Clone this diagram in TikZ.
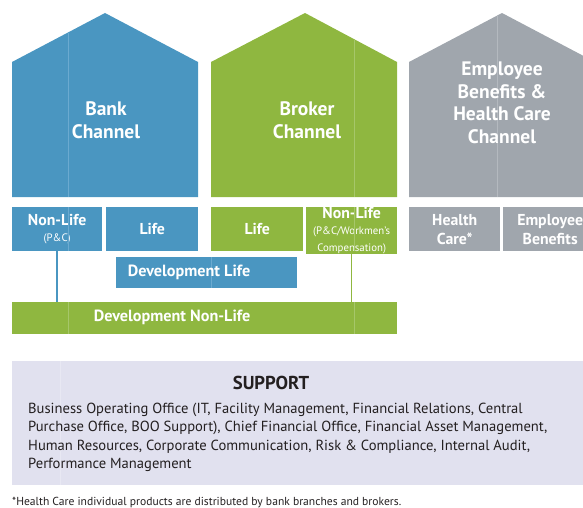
\documentclass[tikz,border=0pt]{standalone}
\usepackage{fontspec}
\setmainfont{PT Sans}
\definecolor{bankblue}{HTML}{4A96C1}
\definecolor{seamblue}{HTML}{6BAAD0}
\definecolor{brokergreen}{HTML}{8FB740}
\definecolor{seamgreen}{HTML}{A6C76A}
\definecolor{ebgrey}{HTML}{A0A6AD}
\definecolor{seamgrey}{HTML}{B4B9BF}
\definecolor{supportbg}{HTML}{E1E1EF}
\definecolor{seamsup}{HTML}{E8E8F3}
\definecolor{txtdark}{HTML}{231F20}
\newcommand{\subtxt}{\fontsize{10.8}{11}\selectfont\mdseries}
\begin{document}
\begin{tikzpicture}[x=1pt,y=-1pt,
  box/.style={anchor=north west, inner sep=0pt, align=center, text=white,
    font=\fontsize{15.8}{19}\selectfont\bfseries},
  title/.style={text=white, align=center, font=\fontsize{19.5}{22.5}\selectfont\bfseries},
  devtext/.style={text=white, font=\fontsize{16.2}{18}\selectfont\bfseries},
  seam/.style={line width=0.6pt}]
\useasboundingbox (0,0) rectangle (583,508);
\clip (0,0) rectangle (583,508);

% houses
\fill[bankblue] (12,197) -- (12,62) -- (105,13) -- (198,62) -- (198,197) -- cycle;
\fill[brokergreen] (211,197) -- (211,62) -- (305,13) -- (397,62) -- (397,197) -- cycle;
\fill[ebgrey] (409,197) -- (409,62) -- (502,13) -- (595,62) -- (595,197) -- cycle;
\draw[seamblue,seam] (68,33) -- (68,197);
\draw[seamgreen,seam] (354,40) -- (354,197);
\draw[seamgrey,seam] (497,15) -- (497,197);

\node[title] (bank) at (106,120) {Bank\\Channel};
\node[title] (broker) at (307,120) {Broker\\Channel};
\node[title] (ebhc) at (502,103) {Employee\\Benefits \&\\Health Care\\Channel};

% product boxes
\node[box, fill=bankblue, minimum width=90, minimum height=44] (bnl) at (12,207)
  {Non-Life\\[-3pt]\subtxt (P\&C)};
\node[box, fill=bankblue, minimum width=92, minimum height=44] (blife) at (106,207) {Life};
\node[box, fill=brokergreen, minimum width=92, minimum height=44] (glife) at (211,207) {Life};
\node[box, fill=brokergreen, minimum width=91, minimum height=44] (gnl) at (306,207)
  {Non-Life\\[-3pt]\subtxt (P\&C/Workmen's\\[-2pt]\subtxt Compensation)};
\node[box, fill=ebgrey, minimum width=91, minimum height=44] (hc) at (409,207) {Health\\Care*};
\node[box, fill=ebgrey, minimum width=94, minimum height=44] (eb) at (503,207) {Employee\\Benefits};
\draw[seamblue,seam] (68,207) -- (68,251);
\draw[seamgreen,seam] (354,207) -- (354,251);

% development bars
\node[box, fill=bankblue, minimum width=181, minimum height=31] (dl) at (116,257) {};
\draw[seamblue,seam] (211,257) -- (211,288);
\node[devtext] (dltext) at (189,272) {Development Life};
\node[box, fill=brokergreen, minimum width=385, minimum height=32] (dnl) at (12,302) {};
\draw[seamgreen,seam] (68,302) -- (68,334);
\draw[seamgreen,seam] (354,302) -- (354,334);
\node[devtext] (dnltext) at (172,317) {Development Non-Life};

% connectors
\draw[bankblue, line width=1.5pt] (bnl.south) -- (bnl.south |- dnl.north);
\draw[brokergreen, line width=1.5pt] (gnl.south) -- (gnl.south |- dnl.north);

% support
\node[anchor=north west, fill=supportbg, minimum width=571, minimum height=124, inner sep=0pt] (sup) at (12,361) {};
\draw[seamsup,seam] (60,361) -- (60,485);
\node[text=txtdark, font=\fontsize{18.7}{20}\selectfont\bfseries] (suptitle) at (271,383) {SUPPORT};
\node[anchor=north west, text=txtdark, align=left, inner sep=0pt,
  font=\fontsize{14.6}{18.3}\selectfont] (suptext) at (28,403)
  {Business Operating Office (IT, Facility Management, Financial Relations, Central\\
   Purchase Office, BOO Support), Chief Financial Office, Financial Asset Management,\\
   Human Resources, Corporate Communication, Risk \& Compliance, Internal Audit,\\
   Performance Management};

\node[anchor=west, text=txtdark, inner sep=0pt, font=\fontsize{11.6}{12}\selectfont] (foot) at (12,503)
  {*Health Care individual products are distributed by bank branches and brokers.};
\end{tikzpicture}
\end{document}
